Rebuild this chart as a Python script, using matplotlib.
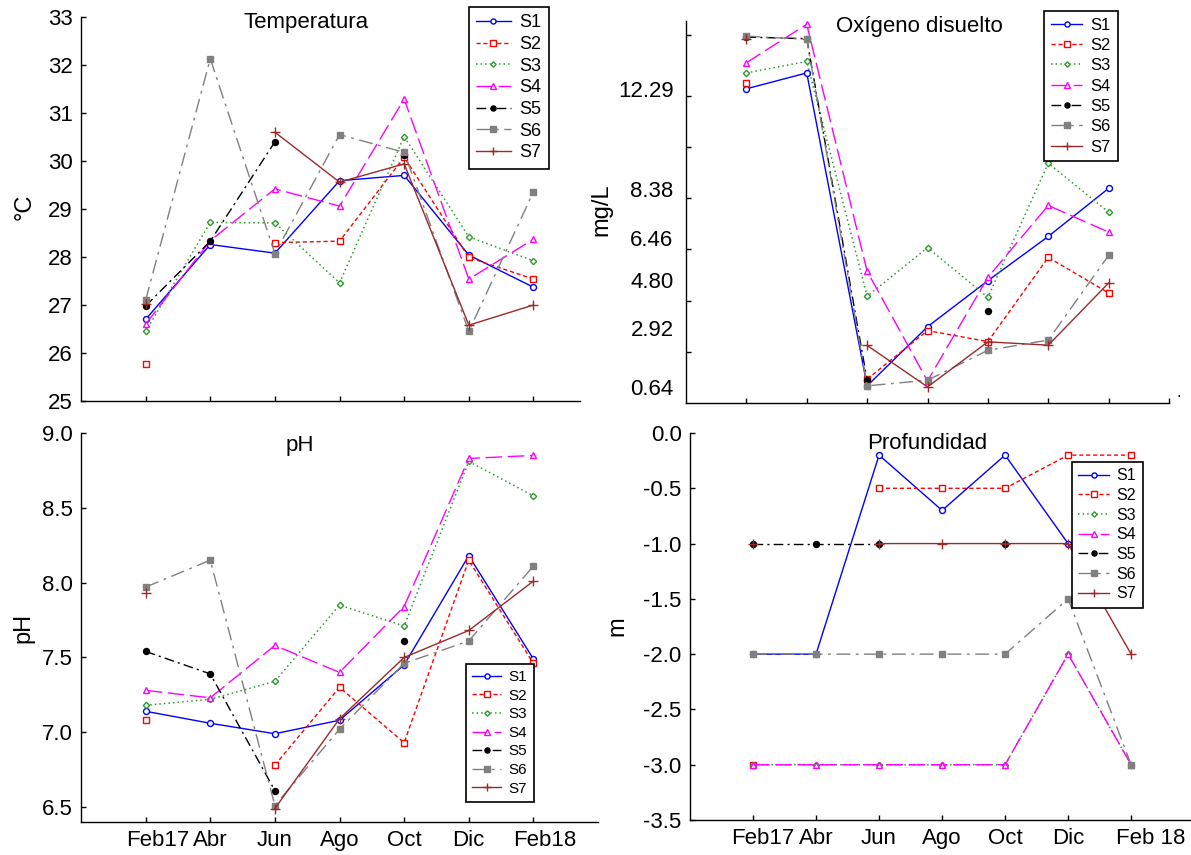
import numpy as np
import matplotlib
matplotlib.use("Agg")
import matplotlib.pyplot as plt
from matplotlib.transforms import ScaledTranslation

plt.rcParams['font.family'] = ['Liberation Sans', 'DejaVu Sans']

nan = np.nan
months = ["Feb17", "Abr", "Jun", "Ago", "Oct", "Dic", "Feb18"]
months_br = ["Feb17", "Abr", "Jun", "Ago", "Oct", "Dic", "Feb 18"]
series = ["S1", "S2", "S3", "S4", "S5", "S6", "S7"]

temp_S1 = [26.70, 28.26, 28.08, 29.59, 29.70, 28.04, 27.37]
temp_S2 = [25.77, nan, 28.30, 28.33, 30.08, 27.99, 27.54]
temp_S3 = [26.45, 28.72, 28.71, 27.46, 30.51, 28.42, 27.92]
temp_S4 = [26.60, 28.34, 29.42, 29.06, 31.29, 27.54, 28.37]
temp_S5 = [26.98, 28.33, 30.40, nan, 30.13, nan, nan]
temp_S6 = [27.10, 32.13, 28.07, 30.55, 30.18, 26.45, 29.36]
temp_S7 = [27.02, nan, 30.60, 29.56, 29.94, 26.58, 27.00]

od_S1 = [12.28, 12.90, 0.67, 2.98, 4.78, 6.51, 8.39]
od_S2 = [12.51, nan, 0.93, 2.83, 2.40, 5.69, 4.30]
od_S3 = [12.90, 13.35, 4.17, 6.07, 4.13, 9.37, 7.46]
od_S4 = [13.30, 14.80, 5.15, 0.86, 4.91, 7.72, 6.68]
od_S5 = [14.30, 14.24, 0.89, nan, 3.61, nan, nan]
od_S6 = [14.34, 14.21, 0.67, 0.89, 2.06, 2.46, 5.77]
od_S7 = [14.24, nan, 2.25, 0.63, 2.39, 2.26, 4.69]
od_ticklabels = [0.64, 2.92, 4.80, 6.46, 8.38, 12.29]

ph_S1 = [7.14, 7.06, 6.99, 7.08, 7.45, 8.18, 7.49]
ph_S2 = [7.08, nan, 6.78, 7.30, 6.93, 8.15, 7.46]
ph_S3 = [7.18, 7.22, 7.34, 7.85, 7.71, 8.81, 8.58]
ph_S4 = [7.28, 7.23, 7.58, 7.40, 7.84, 8.83, 8.85]
ph_S5 = [7.54, 7.39, 6.61, nan, 7.61, nan, nan]
ph_S6 = [7.97, 8.15, 6.51, 7.02, 7.46, 7.61, 8.11]
ph_S7 = [7.93, nan, 6.49, 7.09, 7.50, 7.68, 8.01]

prof_S1 = [-2.0, -2.0, -0.2, -0.7, -0.2, -1.0, nan]
prof_S2 = [-3.0, nan, -0.5, -0.5, -0.5, -0.2, -0.2]
prof_S3 = [-3.0, -3.0, -3.0, -3.0, -3.0, -2.0, -3.0]
prof_S4 = [-3.0, -3.0, -3.0, -3.0, -3.0, -2.0, -3.0]
prof_S5 = [-1.0, -1.0, -1.0, nan, -1.0, nan, nan]
prof_S6 = [-2.0, -2.0, -2.0, -2.0, -2.0, -1.5, -3.0]
prof_S7 = [-1.0, nan, -1.0, -1.0, -1.0, -1.0, -2.0]

styles = [
    dict(color='#0000FF', ls='-', marker='o', mfc='white', ms=4.3, lw=1.0),
    dict(color='#FF0000', ls=(0, (3, 2)), marker='s', mfc='white', ms=4.3, lw=1.0),
    dict(color='#2E9B2E', ls=(0, (1, 2)), marker='D', mfc='white', ms=3.2, lw=1.1),
    dict(color='#FF00FF', ls=(0, (12, 4)), marker='^', mfc='white', ms=4.5, lw=1.0),
    dict(color='#000000', ls=(0, (7, 3, 1.5, 3)), marker='o', mfc='#000000', ms=4.3, lw=1.0),
    dict(color='#808080', ls=(0, (10, 4, 2, 4)), marker='s', mfc='#808080', ms=4.3, lw=1.0),
    dict(color='#9A2A2A', ls='-', marker='+', mfc='#9A2A2A', ms=6.5, lw=1.0),
]

W, H = 1191, 855
fig = plt.figure(figsize=(W / 100, H / 100), dpi=100)

def px_axes(x0, y0, x1, y1):
    return fig.add_axes([x0 / W, 1 - y1 / H, (x1 - x0) / W, (y1 - y0) / H])

def setup(ax):
    for s in ['top', 'right']:
        ax.spines[s].set_visible(False)
    for s in ['left', 'bottom']:
        ax.spines[s].set_linewidth(1.0)
    ax.tick_params(direction='in', length=3.5, width=1.0, labelsize=16, pad=6)

def plot_all(ax, data):
    x = np.arange(len(months))
    lines = []
    for name, vals, st in zip(series, data, styles):
        ln, = ax.plot(x, vals, label=name, color=st['color'], linestyle=st['ls'],
                      linewidth=st['lw'], marker=st['marker'], markersize=st['ms'],
                      markerfacecolor=st['mfc'], markeredgecolor=st['color'],
                      markeredgewidth=1.0, clip_on=False)
        lines.append(ln)
    return lines

def add_legend(ax, x0, y0, fs, ls):
    leg = ax.legend(loc='upper left', bbox_to_anchor=(x0 / W, 1 - y0 / H),
                    bbox_transform=fig.transFigure, fontsize=fs, frameon=True,
                    fancybox=False, framealpha=1, edgecolor='black',
                    handlelength=1.9, handletextpad=0.5, labelspacing=ls,
                    borderpad=0.4, borderaxespad=0, markerscale=0.85)
    leg.get_frame().set_linewidth(1.2)
    return leg

def shift_labels(ax, offsets):
    for lab, dx in zip(ax.get_xticklabels(), offsets):
        if dx:
            lab.set_transform(lab.get_transform() + ScaledTranslation(dx / 100, 0, fig.dpi_scale_trans))

# Top-left: Temperatura
ax1 = px_axes(81, 17, 580, 401)
setup(ax1)
plot_all(ax1, [temp_S1, temp_S2, temp_S3, temp_S4, temp_S5, temp_S6, temp_S7])
ax1.set_xlim(-1, 6.72)
ax1.set_ylim(25, 33)
ax1.set_yticks(range(25, 34))
ax1.set_xticks(range(7))
ax1.set_xticklabels([])
ax1.set_ylabel('°C', fontsize=17)
ax1.yaxis.set_label_coords(-0.09, 0.505)
ax1.text(0.451, 0.985, 'Temperatura', transform=ax1.transAxes, ha='center', va='center', fontsize=16)
add_legend(ax1, 469, 7, 13, 0.26)

# Top-right: Oxígeno disuelto
ax2 = px_axes(686, 21, 1169, 403)
setup(ax2)
plot_all(ax2, [od_S1, od_S2, od_S3, od_S4, od_S5, od_S6, od_S7])
ax2.set_xlim(-1, 7)
ax2.set_ylim(0, 14.93)
ax2.set_yticks(od_ticklabels)
ax2.set_yticklabels([f'{v:.2f}' for v in od_ticklabels])
ax2.tick_params(axis='y', which='major', length=0, pad=9)
ax2.set_yticks([2, 4, 6, 8, 10, 12, 14.38], minor=True)
ax2.tick_params(axis='y', which='minor', direction='in', length=3.5, width=1.0)
ax2.set_xticks(range(8))
ax2.set_xticklabels([])
ax2.text(7.13, 0.1, '.', ha='left', va='bottom', fontsize=12)
ax2.set_ylabel('mg/L', fontsize=17)
ax2.yaxis.set_label_coords(-0.153, 0.505)
ax2.text(0.484, 0.985, 'Oxígeno disuelto', transform=ax2.transAxes, ha='center', va='center', fontsize=16)
add_legend(ax2, 1044, 11, 12, 0.32)

# Bottom-left: pH
ax3 = px_axes(81, 433, 598, 822)
setup(ax3)
plot_all(ax3, [ph_S1, ph_S2, ph_S3, ph_S4, ph_S5, ph_S6, ph_S7])
ax3.set_xlim(-1, 7)
ax3.set_ylim(6.4, 9.0)
ax3.set_yticks([6.5, 7.0, 7.5, 8.0, 8.5, 9.0])
ax3.set_yticklabels(['6.5', '7.0', '7.5', '8.0', '8.5', '9.0'])
ax3.set_xticks(range(7))
ax3.set_xticklabels(months)
shift_labels(ax3, [12, 0, 0, 0, 0, 0, 11])
ax3.set_ylabel('pH', fontsize=17)
ax3.yaxis.set_label_coords(-0.09, 0.5)
ax3.text(0.424, 0.968, 'pH', transform=ax3.transAxes, ha='center', va='center', fontsize=16)
add_legend(ax3, 466, 664, 11, 0.30)

# Bottom-right: Profundidad
ax4 = px_axes(690, 433, 1191, 820)
setup(ax4)
plot_all(ax4, [prof_S1, prof_S2, prof_S3, prof_S4, prof_S5, prof_S6, prof_S7])
ax4.set_xlim(-1, 6.95)
ax4.set_ylim(-3.5, 0.0)
ax4.set_yticks([-3.5, -3.0, -2.5, -2.0, -1.5, -1.0, -0.5, 0.0])
ax4.set_yticklabels(['-3.5', '-3.0', '-2.5', '-2.0', '-1.5', '-1.0', '-0.5', '0.0'])
ax4.set_xticks(range(7))
ax4.set_xticklabels(months_br)
shift_labels(ax4, [10, 0, 0, 0, 0, 0, 20])
ax4.set_ylabel('m', fontsize=17)
ax4.yaxis.set_label_coords(-0.122, 0.5)
ax4.text(0.473, 0.972, 'Profundidad', transform=ax4.transAxes, ha='center', va='center', fontsize=16)
add_legend(ax4, 1072, 462, 11.5, 0.29)

fig.savefig('out.png', dpi=100)
